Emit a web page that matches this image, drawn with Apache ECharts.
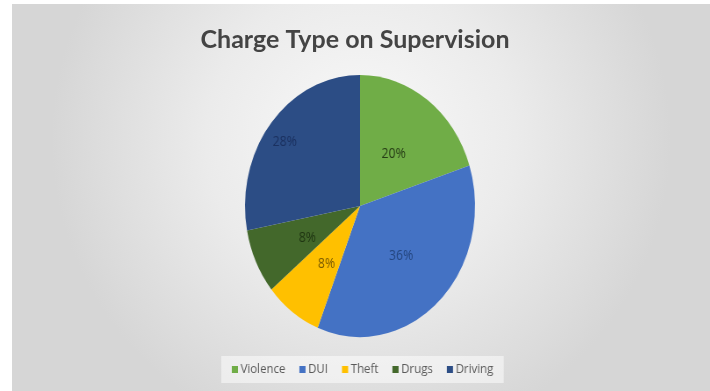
<!DOCTYPE html>
<html><head><meta charset="utf-8">
<script src="https://cdn.jsdelivr.net/npm/echarts@6/dist/echarts.min.js"></script>
<style>
html,body{margin:0;padding:0;background:#fff;}
#wrap{position:relative;width:710px;height:391px;overflow:hidden;}
#bg,#pie{position:absolute;left:0;top:0;width:710px;height:391px;}
#pie{transform:scaleX(0.878);transform-origin:360px 206px;}
</style></head>
<body>
<div id="wrap"><div id="bg"></div><div id="pie"></div></div>
<script>
const titleText = 'Charge Type on Supervision';
const categories = ['Violence', 'DUI', 'Theft', 'Drugs', 'Driving'];
const values = [20, 36, 8, 8, 28];
const sliceColors = ['#70AD47', '#4472C4', '#FFC000', '#43682B', '#2C4D85'];
const labelColors = ['#263d16', '#24467f', '#7a5a00', '#1f3512', '#1b3160'];
const labelNudge = [[-2, 3], [0, 0], [2, 3], [2, 3], [-33, -20]];

const bg = echarts.init(document.getElementById('bg'), null, {renderer: 'canvas'});
bg.setOption({
  animation: false,
  graphic: [{
    type: 'rect', left: 12, top: 4, shape: {width: 698, height: 387},
    style: {fill: {type: 'radial', x: 0.5, y: 0.35, r: 0.8,
      colorStops: [{offset: 0, color: '#f9f9f9'}, {offset: 0.5, color: '#ebebeb'}, {offset: 1, color: '#d6d6d6'}]}},
    z: -10
  }],
  title: {
    text: titleText, left: 'center', top: 22,
    textStyle: {fontFamily: 'Lato', fontWeight: 'bold', fontSize: 25, color: '#444'}
  }
});

const pie = echarts.init(document.getElementById('pie'), null, {renderer: 'canvas'});
pie.setOption({
  animation: false,
  legend: {
    data: categories, left: 202, top: 356,
    itemWidth: 7, itemHeight: 7, itemGap: 16, icon: 'rect',
    backgroundColor: 'rgba(255,255,255,0.5)', padding: [7, 12],
    textStyle: {fontFamily: 'Open Sans', fontSize: 13, color: '#595959', padding: [0, 0, 0, -2]}
  },
  series: [{
    type: 'pie', center: [360, 206], radius: 131, startAngle: 90, clockwise: true,
    data: categories.map((c, i) => ({
      name: c, value: values[i],
      itemStyle: {color: sliceColors[i]},
      label: {color: labelColors[i]}
    })),
    itemStyle: {borderWidth: 0},
    label: {show: true, position: 'inside', formatter: '{c}%', fontFamily: 'Open Sans', fontSize: 14},
    labelLine: {show: false},
    labelLayout: function (p) { const n = labelNudge[p.dataIndex]; return {dx: n[0], dy: n[1]}; }
  }]
});
</script>
</body></html>
